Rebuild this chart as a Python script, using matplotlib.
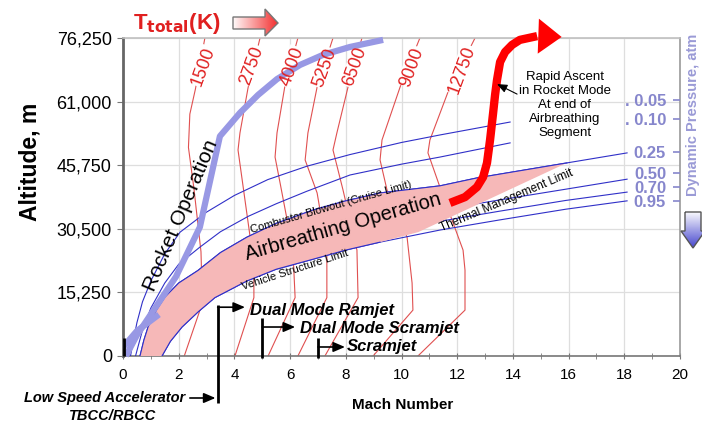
import numpy as np
import matplotlib
matplotlib.use('Agg')
import matplotlib.pyplot as plt
from matplotlib.patches import Polygon
from matplotlib.ticker import MultipleLocator

plt.rcParams['font.family'] = ['Liberation Sans', 'DejaVu Sans']

W, H = 702, 424

# ---------------- data ----------------
mach_ticks = [0, 2, 4, 6, 8, 10, 12, 14, 16, 18, 20]
alt_ticks = [0, 15250, 30500, 45750, 61000, 76250]
alt_ticklabels = ['0', '15,250', '30,500', '45,750', '61,000', '76,250']

# total temperature contours (Mach, altitude m)
temp_labels = ['1500', '2750', '4000', '5250', '6500', '9000', '12750']
temp_mach = [
    [2.2, 2.85, 2.8, 2.55, 2.35, 2.4, 2.6, 2.94],
    [4.02, 4.70, 4.70, 4.63, 4.38, 4.13, 4.2, 4.49, 4.92],
    [5.21, 6.18, 6.10, 5.64, 5.46, 5.53, 5.82, 6.28],
    [6.28, 7.32, 7.32, 6.97, 6.54, 6.64, 6.97, 7.54],
    [7.25, 8.44, 8.40, 7.90, 7.54, 7.68, 8.08, 8.58],
    [8.98, 10.41, 10.38, 10.2, 9.48, 9.23, 9.30, 9.95, 10.66],
    [10.59, 12.28, 12.28, 12.21, 11.38, 10.95, 11.02, 11.67, 12.64],
]
temp_alt = [
    [0, 12700, 25000, 40000, 50000, 58000, 64000, 76250],
    [0, 14000, 22000, 25400, 37400, 49400, 53500, 64300, 76250],
    [0, 14000, 25400, 41500, 47700, 53500, 65000, 76250],
    [0, 14000, 25400, 39100, 47000, 53500, 64500, 76250],
    [0, 14000, 25400, 39800, 49400, 53500, 64500, 76250],
    [0, 11000, 17500, 28500, 39800, 47000, 51800, 64500, 76250],
    [0, 11000, 20600, 25400, 40500, 48700, 51800, 63300, 76250],
]
temp_label_mach = [2.87, 4.63, 6.07, 7.25, 8.33, 10.38, 12.17]
temp_label_alt = [69500, 69700, 69300, 69100, 69300, 69300, 68600]

# dynamic pressure lines (atm)
q_labels = ['0.05', '0.10', '0.25', '0.50', '0.70', '0.95']
q_mach = [
    [0.27, 0.35, 0.5, 0.7, 1.0, 1.5, 2.05, 3.0, 4.0, 5.2, 6.6, 8.15, 10.0, 11.38, 13.9],
    [0.45, 0.55, 0.7, 1.0, 1.5, 2.0, 2.76, 3.5, 4.5, 5.5, 6.6, 8.15, 10.0, 11.38, 13.9],
    [0.61, 0.75, 0.9, 1.2, 1.51, 2.0, 2.69, 3.5, 4.45, 5.5, 6.82, 8.0, 9.23, 11.38, 12.71, 15.94, 18.1],
    [0.9, 1.1, 1.5, 2.0, 2.5, 3.3, 4.45, 5.5, 6.82, 8.0, 9.23, 11.38, 13.5, 15.9, 18.1],
    [1.1, 1.35, 1.8, 2.4, 3.0, 4.45, 5.5, 6.82, 8.0, 9.23, 11.38, 13.5, 15.9, 18.1],
    [1.4, 1.7, 2.12, 2.7, 3.30, 4.45, 5.5, 6.82, 8.0, 9.23, 11.38, 13.5, 15.9, 18.1],
]
q_alt = [
    [0, 3000, 8000, 13000, 18000, 24500, 29700, 34500, 38500, 42300, 45500, 48300, 51200, 53000, 56100],
    [0, 2500, 6200, 11500, 17500, 22000, 26100, 29800, 33500, 36500, 39500, 43400, 46000, 47700, 51100],
    [0, 3800, 6950, 11000, 14150, 17500, 20500, 24800, 28500, 31800, 35000, 37200, 39100, 40800, 42700, 46300, 48700],
    [0, 3500, 7500, 11500, 14000, 18000, 22300, 25300, 27600, 30000, 32000, 35000, 37400, 40000, 42400],
    [0, 3800, 7000, 10800, 13500, 19600, 22500, 24900, 27300, 29300, 32300, 34700, 37300, 39300],
    [0, 3500, 6950, 10600, 14000, 18000, 20800, 23200, 25400, 27300, 30200, 32600, 35200, 37200],
]
q_label_alt = [61400, 56800, 48800, 43900, 40500, 37200]

# airbreathing corridor: upper edge follows the 0.25 atm line up to the tip
corr_up_mach = [0.61, 0.75, 0.9, 1.2, 1.51, 2.0, 2.69, 3.5, 4.45, 5.5, 6.82, 8.0, 9.23, 11.38, 12.71, 15.94]
corr_up_alt = [0, 3800, 6950, 11000, 14150, 17500, 20500, 24800, 28500, 31800, 35000, 37200, 39100, 40800, 42700, 46300]
corr_lo_mach = [1.4, 1.7, 2.12, 2.7, 3.30, 4.45, 5.5, 6.82, 8.0, 9.23, 10.6, 15.94]
corr_lo_alt = [0, 3500, 6950, 10600, 14000, 18000, 20800, 23200, 25400, 27300, 29700, 46300]

# rocket trajectory
rocket_mach = [0.1, 0.5, 1.1, 1.9, 2.76, 3.48, 4.2, 4.85, 5.53, 6.36, 7.18, 8.15, 9.34]
rocket_alt = [0, 5000, 11000, 19000, 30900, 52700, 58300, 62600, 66400, 69800, 72200, 74100, 75800]
rocket2_mach = [0.05, 0.5, 1.2]
rocket2_alt = [2500, 6000, 9500]

# rapid ascent (red arrow)
ascent_mach = [11.74, 12.28, 12.71, 12.93, 13.07, 13.18, 13.29, 13.36, 13.43, 13.54, 13.72, 13.97, 14.25, 14.87]
ascent_alt = [36700, 38100, 40500, 42900, 46300, 51800, 58300, 62600, 66200, 70500, 72900, 74600, 75800, 76700]
ascent_tip = (15.75, 76500)

# propulsion mode boundaries (Mach)
mode_mach = [0.0, 3.4, 5.0, 7.0]

# ---------------- figure ----------------
fig = plt.figure(figsize=(W / 100, H / 100), dpi=100)
ax = fig.add_axes([123 / W, 1 - 356 / H, 557 / W, 318 / H])
ax.set_xlim(0, 20)
ax.set_ylim(0, 76250)
ax.set_xticks(mach_ticks)
ax.set_xticklabels([str(m) for m in mach_ticks], fontsize=11)
ax.xaxis.set_minor_locator(MultipleLocator(1))
ax.set_yticks(alt_ticks)
ax.set_yticklabels(alt_ticklabels, fontsize=13)
ax.grid(True, color='#dedede', lw=0.9, zorder=0)
ax.set_axisbelow(True)
ax.tick_params(axis='x', which='both', direction='inout', length=5, color='#777777', pad=6)
ax.tick_params(axis='y', direction='out', length=4, color='#777777', pad=4)
ax.spines['left'].set_color('#666666'); ax.spines['left'].set_linewidth(2)
ax.spines['bottom'].set_color('#777777'); ax.spines['bottom'].set_linewidth(1.2)
ax.spines['top'].set_color('#c0c0c0'); ax.spines['top'].set_linewidth(1.2)
ax.spines['right'].set_color('#9a9a9a'); ax.spines['right'].set_linewidth(1.2)

red_c = '#e02020'
blue_c = '#3030c8'
lav_c = '#9898e4'

# temperature contours
for xs, ys in zip(temp_mach, temp_alt):
    ax.plot(xs, ys, color='#e05050', lw=0.8, zorder=2)
for lab, xm, ya in zip(temp_labels, temp_label_mach, temp_label_alt):
    ax.text(xm, ya, lab, rotation=70, ha='center', va='center', rotation_mode='anchor',
            fontsize=13, color='none', zorder=2.5,
            bbox=dict(fc='white', ec='none', pad=0.5))
    ax.text(xm, ya, lab, rotation=70, ha='center', va='center', rotation_mode='anchor',
            fontsize=13, color=red_c, zorder=8)

# dynamic pressure lines
for xs, ys in zip(q_mach, q_alt):
    ax.plot(xs, ys, color=blue_c, lw=0.8, zorder=3)

# corridor
poly_x = list(corr_up_mach) + list(corr_lo_mach[::-1])
poly_y = list(corr_up_alt) + list(corr_lo_alt[::-1])
ax.fill(poly_x, poly_y, color='#f6b8b8', lw=0, zorder=3.5)
ax.plot(corr_up_mach, corr_up_alt, color=blue_c, lw=0.8, zorder=3.6)
ax.plot(corr_lo_mach[:-2], corr_lo_alt[:-2], color=blue_c, lw=0.8, zorder=3.6)

# rocket trajectory
ax.plot(rocket_mach, rocket_alt, color=lav_c, lw=4.5, solid_capstyle='butt',
        solid_joinstyle='round', zorder=4, clip_on=False)
ax.plot(rocket2_mach, rocket2_alt, color=lav_c, lw=4.5, zorder=4)

# red rapid ascent arrow
ax.plot(ascent_mach, ascent_alt, color='#ff0000', lw=6, zorder=6, clip_on=False,
        solid_capstyle='butt', solid_joinstyle='round')
ax.annotate('', xy=ascent_tip, xytext=(ascent_mach[-1], ascent_alt[-1]),
            arrowprops=dict(arrowstyle='-|>,head_width=0.9,head_length=1.2', color='#ff0000',
                            lw=0, mutation_scale=14, shrinkA=0, shrinkB=0),
            annotation_clip=False, zorder=6)

# text in plot
def rtext(x, y, s, rot, size, **kw):
    ax.text(x, y, s, rotation=rot, rotation_mode='anchor', ha='center', va='center',
            fontsize=size, zorder=9, **kw)

rtext(2.08, 33800, 'Rocket Operation', 67, 15)
rtext(7.9, 30900, 'Airbreathing Operation', 16, 14.5)
rtext(7.47, 35700, 'Combustor Blowout (Cruise Limit)', 16, 8)
rtext(6.18, 20600, 'Vehicle Structure Limit', 18, 8)
rtext(13.79, 37200, 'Thermal Management Limit', 23, 8.5)

ax.text(15.87, 60200, 'Rapid Ascent\nin Rocket Mode\nAt end of\nAirbreathing\nSegment',
        ha='center', va='center', fontsize=9.5, linespacing=1.2, zorder=9)
ax.annotate('', xy=(13.43, 65200), xytext=(14.15, 62800),
            arrowprops=dict(arrowstyle='-|>,head_width=0.25,head_length=0.6', color='black',
                            lw=0.8, shrinkA=0, shrinkB=0), zorder=9)

# propulsion mode brackets
bk = dict(color='black', lw=2, clip_on=False, zorder=9, solid_capstyle='butt')
ax.plot([mode_mach[0] + 0.04, mode_mach[0] + 0.04], [0, 4300], **bk)
ax.plot([mode_mach[1], mode_mach[1]], [-11300, 12200], **bk)
ax.plot([mode_mach[2], mode_mach[2]], [-500, 9100], **bk)
ax.plot([mode_mach[3], mode_mach[3]], [-500, 4300], **bk)
arr = dict(arrowstyle='-|>,head_width=0.3,head_length=0.7', color='black', lw=1.2,
           shrinkA=0, shrinkB=0)
ax.annotate('', xy=(4.38, 11700), xytext=(mode_mach[1], 11700), arrowprops=arr, annotation_clip=False)
ax.annotate('', xy=(6.18, 6950), xytext=(mode_mach[2], 6950), arrowprops=arr, annotation_clip=False)
ax.annotate('', xy=(7.97, 2160), xytext=(mode_mach[3], 2160), arrowprops=arr, annotation_clip=False)
ax.annotate('', xy=(3.32, -10070), xytext=(2.4, -10070), arrowprops=arr, annotation_clip=False)
bi = dict(fontsize=12, fontweight='bold', fontstyle='italic', va='center', ha='left',
          zorder=9, clip_on=False)
ax.text(4.56, 11000, 'Dual Mode Ramjet', **bi)
ax.text(6.36, 6700, 'Dual Mode Scramjet', **bi)
ax.text(8.04, 2200, 'Scramjet', **bi)
ax.text(2.25, -10070, 'Low Speed Accelerator', fontsize=10.5, fontweight='bold',
        fontstyle='italic', ha='right', va='center', clip_on=False)
ax.text(-0.36, -14300, 'TBCC/RBCC', fontsize=10.5, fontweight='bold',
        fontstyle='italic', ha='center', va='center', clip_on=False)

# right-side dynamic pressure labels
ax2 = ax.twinx()
ax2.set_ylim(ax.get_ylim())
ax2.set_yticks(q_label_alt)
ax2.set_yticklabels(['. ' + q_labels[0], '. ' + q_labels[1]] + q_labels[2:],
                    fontsize=12, fontweight='bold', color='#8686cc')
ax2.tick_params(axis='y', direction='in', length=5, width=1.2, color='#8686cc', pad=-10)
for t in ax2.get_yticklabels():
    t.set_ha('right')
for s in ax2.spines.values():
    s.set_visible(False)

# axis titles
fig.text(30 / W, 1 - 162 / H, 'Altitude, m', rotation=90, ha='center', va='center',
         fontsize=16.5, fontweight='bold')
fig.text(403 / W, 1 - 405 / H, 'Mach Number', ha='center', va='center',
         fontsize=11, fontweight='bold')
fig.text(133 / W, 1 - 23 / H, r'T$_{\mathbf{total}}$(K)', ha='left', va='center',
         fontsize=16, fontweight='bold', color=red_c)
fig.text(693 / W, 1 - 115 / H, 'Dynamic Pressure, atm', rotation=90, ha='center',
         va='center', fontsize=10.5, fontweight='bold', color='#9a9ad6')

# gradient arrows
def grad_arrow(verts, c0, c1, horizontal, edge):
    v = np.array(verts, float)
    x0, y0 = v.min(0) - 1
    x1, y1 = v.max(0) + 1
    a = fig.add_axes([x0 / W, 1 - y1 / H, (x1 - x0) / W, (y1 - y0) / H])
    a.set_xlim(x0, x1); a.set_ylim(y1, y0); a.axis('off')
    t = np.linspace(0, 1, 256)
    cols = (1 - t)[:, None] * np.array(c0) + t[:, None] * np.array(c1)
    img = cols[None, :, :] if horizontal else cols[:, None, :]
    im = a.imshow(img, extent=[x0, x1, y1, y0], aspect='auto', interpolation='bilinear')
    p = Polygon(v, closed=True, fc='none', ec=edge, lw=1)
    a.add_patch(p)
    im.set_clip_path(p)

grad_arrow([(233, 17), (265, 17), (265, 9), (278, 23), (265, 36), (265, 29), (233, 29)],
           (1, 1, 1), (0.95, 0.15, 0.15), True, '#777777')
grad_arrow([(685, 212), (701, 212), (701, 231), (705, 231), (693, 248), (681, 231), (685, 231)],
           (1, 1, 1), (0.25, 0.25, 0.8), False, '#555555')

fig.savefig('out.png', dpi=100)
